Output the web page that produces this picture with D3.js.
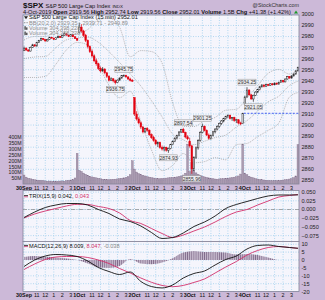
<!DOCTYPE html>
<html><head><meta charset="utf-8">
<script src="https://cdn.jsdelivr.net/npm/d3@7"></script>
<style>
html,body{margin:0;padding:0;background:#ccb9d8;}
svg{display:block;font-family:"Liberation Sans",Arial,sans-serif;}
</style></head>
<body><div id="app"></div>
<script>
// 15 min bars, 26 per day
const dayLabels = ['30Sep', '1Oct', '2Oct', '3Oct', '4Oct'];
const hourLabels = ['11', '12', '1', '2', '3'];
const hourBars = [6, 10, 14, 18, 22];
const barsPerDay = 26;

const opens = [
  2967.1, 2969.5, 2967.8, 2966.9, 2970.2, 2972.5, 2971.4, 2974.8, 2976.3, 2978.1, 2977.2, 2976.0, 2977.5, 2979.3, 2978.6, 2977.4, 2978.9, 2980.2, 2979.1, 2980.8, 2982.5, 2981.3, 2980.0, 2981.7, 2979.8, 2978.2,
  2983.7, 2988.5, 2985.0, 2981.2, 2976.5, 2970.8, 2966.3, 2962.5, 2958.1, 2955.4, 2951.2, 2949.0, 2950.6, 2947.2, 2944.1, 2940.5, 2941.8, 2940.0, 2938.4, 2940.6, 2942.5, 2944.6, 2945.0, 2943.5, 2941.6, 2940.4,
  2924.8, 2910.0, 2905.5, 2902.0, 2898.2, 2893.8, 2896.9, 2895.4, 2891.3, 2888.6, 2886.1, 2883.0, 2884.3, 2879.7, 2878.4, 2879.9, 2877.3, 2878.8, 2882.4, 2885.1, 2888.2, 2890.4, 2893.7, 2896.2, 2893.4, 2889.3,
  2885.4, 2881.2, 2860.4, 2870.5, 2879.4, 2886.2, 2893.4, 2898.8, 2895.1, 2891.0, 2888.0, 2890.6, 2893.9, 2896.4, 2898.9, 2901.6, 2903.7, 2905.9, 2907.6, 2908.8, 2906.0, 2906.8, 2904.1, 2904.8, 2901.9, 2901.2,
  2918.56, 2925.3, 2931.6, 2927.3, 2923.6, 2926.9, 2929.8, 2932.0, 2934.6, 2936.2, 2935.0, 2936.8, 2935.9, 2937.3, 2936.4, 2937.9, 2937.0, 2938.7, 2940.3, 2939.0, 2941.6, 2943.8, 2942.5, 2944.4, 2946.1, 2949.0
];
const highs = [
  2971.0, 2970.1, 2968.6, 2970.9, 2973.4, 2973.0, 2975.3, 2977.0, 2978.9, 2978.6, 2977.8, 2978.0, 2979.9, 2979.8, 2978.9, 2979.5, 2981.0, 2980.6, 2981.4, 2983.8, 2982.9, 2981.6, 2982.3, 2982.0, 2980.3, 2978.6,
  2992.5, 2991.2, 2986.1, 2982.4, 2977.3, 2972.0, 2968.4, 2963.9, 2960.2, 2956.3, 2953.0, 2952.4, 2951.3, 2948.0, 2945.0, 2943.2, 2942.5, 2941.1, 2941.3, 2943.0, 2945.2, 2945.75, 2945.5, 2944.0, 2942.8, 2941.5,
  2924.8, 2912.5, 2907.2, 2903.5, 2899.0, 2897.6, 2898.1, 2896.0, 2892.4, 2890.3, 2887.4, 2885.2, 2885.0, 2881.5, 2880.8, 2880.4, 2879.6, 2883.0, 2886.0, 2888.9, 2891.3, 2894.6, 2896.5, 2897.54, 2894.0, 2890.8,
  2888.5, 2882.0, 2871.8, 2880.6, 2887.1, 2894.5, 2901.25, 2899.6, 2896.0, 2892.4, 2891.5, 2894.8, 2897.1, 2899.8, 2902.3, 2904.5, 2906.6, 2908.4, 2909.7, 2909.5, 2907.3, 2907.5, 2905.6, 2905.3, 2903.0, 2911.1,
  2926.4, 2934.25, 2932.4, 2928.0, 2927.5, 2930.6, 2932.7, 2935.4, 2936.9, 2936.8, 2937.4, 2937.3, 2937.9, 2937.8, 2938.5, 2938.4, 2939.2, 2940.9, 2940.8, 2942.1, 2944.4, 2944.3, 2945.0, 2946.7, 2949.5, 2952.74
];
const lows = [
  2967.1, 2967.2, 2966.2, 2966.5, 2969.8, 2970.9, 2971.0, 2974.2, 2975.9, 2976.6, 2975.4, 2975.6, 2977.1, 2978.0, 2977.0, 2977.0, 2978.5, 2978.7, 2978.8, 2980.4, 2980.8, 2979.5, 2979.7, 2979.4, 2977.8, 2976.1,
  2982.9, 2983.6, 2979.8, 2975.0, 2969.2, 2965.1, 2961.0, 2956.8, 2953.6, 2949.8, 2947.5, 2948.1, 2945.9, 2942.6, 2939.4, 2939.8, 2938.6, 2936.75, 2937.9, 2940.1, 2942.0, 2943.6, 2942.8, 2940.9, 2939.4, 2938.9,
  2908.3, 2904.1, 2900.8, 2896.4, 2892.5, 2893.0, 2893.9, 2890.2, 2887.5, 2885.0, 2881.8, 2880.1, 2878.6, 2877.0, 2876.2, 2876.0, 2874.93, 2878.1, 2882.1, 2884.6, 2887.0, 2889.8, 2892.9, 2892.8, 2888.0, 2886.4,
  2879.6, 2855.96, 2858.5, 2869.3, 2877.8, 2885.0, 2892.6, 2894.3, 2890.2, 2886.8, 2886.9, 2889.7, 2892.5, 2895.2, 2897.6, 2900.3, 2902.5, 2904.8, 2906.2, 2905.1, 2903.8, 2903.0, 2901.9, 2900.6, 2899.8, 2900.9,
  2918.56, 2924.8, 2926.5, 2922.9, 2921.05, 2926.2, 2929.1, 2931.3, 2933.8, 2934.1, 2934.6, 2935.2, 2935.4, 2935.8, 2936.0, 2936.3, 2936.6, 2938.2, 2938.4, 2938.6, 2941.0, 2941.9, 2942.0, 2943.9, 2945.6, 2948.3
];
const closes = [
  2969.5, 2967.8, 2966.9, 2970.2, 2972.5, 2971.4, 2974.8, 2976.3, 2978.1, 2977.2, 2976.0, 2977.5, 2979.3, 2978.6, 2977.4, 2978.9, 2980.2, 2979.1, 2980.8, 2982.5, 2981.3, 2980.0, 2981.7, 2979.8, 2978.2, 2976.7,
  2988.5, 2985.0, 2981.2, 2976.5, 2970.8, 2966.3, 2962.5, 2958.1, 2955.4, 2951.2, 2949.0, 2950.6, 2947.2, 2944.1, 2940.5, 2941.8, 2940.0, 2938.4, 2940.6, 2942.5, 2944.6, 2945.0, 2943.5, 2941.6, 2940.4, 2940.25,
  2910.0, 2905.5, 2902.0, 2898.2, 2893.8, 2896.9, 2895.4, 2891.3, 2888.6, 2886.1, 2883.0, 2884.3, 2879.7, 2878.4, 2879.9, 2877.3, 2878.8, 2882.4, 2885.1, 2888.2, 2890.4, 2893.7, 2896.2, 2893.4, 2889.3, 2887.61,
  2881.2, 2860.4, 2870.5, 2879.4, 2886.2, 2893.4, 2898.8, 2895.1, 2891.0, 2888.0, 2890.6, 2893.9, 2896.4, 2898.9, 2901.6, 2903.7, 2905.9, 2907.6, 2908.8, 2906.0, 2906.8, 2904.1, 2904.8, 2901.9, 2901.2, 2910.63,
  2925.3, 2931.6, 2927.3, 2923.6, 2926.9, 2929.8, 2932.0, 2934.6, 2936.2, 2935.0, 2936.8, 2935.9, 2937.3, 2936.4, 2937.9, 2937.0, 2938.7, 2940.3, 2939.0, 2941.6, 2943.8, 2942.5, 2944.4, 2946.1, 2949.0, 2952.01
];
// volume, millions
const volumes = [
  80, 62, 52, 48, 44, 40, 38, 36, 34, 33, 30, 28, 29, 27, 26, 28, 27, 29, 30, 28, 32, 35, 38, 42, 55, 262,
  118, 110, 96, 86, 78, 70, 64, 60, 56, 52, 48, 45, 42, 43, 40, 42, 44, 45, 47, 50, 53, 56, 60, 66, 82, 200,
  130, 105, 92, 84, 78, 72, 66, 62, 58, 55, 52, 50, 48, 50, 52, 54, 56, 58, 60, 62, 64, 68, 72, 80, 95, 340,
  110, 185, 120, 98, 86, 78, 70, 64, 60, 56, 52, 48, 46, 45, 47, 48, 50, 52, 54, 56, 58, 62, 66, 72, 88, 340,
  95, 82, 70, 62, 56, 50, 46, 43, 40, 38, 36, 34, 33, 32, 33, 34, 35, 36, 38, 40, 42, 46, 50, 58, 72, 336
];
const prevClose = 2910.63;

// indicator lines read every 5 bars
const sampleBars = [0, 5, 10, 15, 20, 25, 30, 35, 40, 45, 50, 55, 60, 65, 70, 75, 80, 85, 90, 95, 100, 105, 110, 115, 120, 125, 129];
const bbUpper = [2977, 2980, 2980, 2985, 2986, 2982.7, 2986.4, 2995, 2996.7, 2988.3, 2961.8, 2967.3, 2966.4, 2956, 2920, 2899, 2898.7, 2903.8, 2906.9, 2913.4, 2914.3, 2924.6, 2935.5, 2946.8, 2950.3, 2946.1, 2949.89];
const bbMiddle = [2960, 2961.5, 2962, 2970, 2977, 2978.7, 2979.4, 2974.8, 2966.3, 2956.5, 2946.2, 2935.3, 2922, 2907.4, 2891.8, 2886.7, 2882.3, 2885.4, 2888.7, 2891, 2898.3, 2904, 2912.5, 2921, 2926.1, 2935.7, 2939.71];
const bbLower = [2943, 2943, 2944, 2955, 2968, 2974.7, 2972.4, 2954.6, 2935.9, 2924.7, 2930.6, 2903.3, 2877.6, 2858.8, 2863.6, 2874.3, 2865.9, 2867, 2870.5, 2868.6, 2882.3, 2883.4, 2889.5, 2895.2, 2901.9, 2925.3, 2929.35];
const trix = [-0.023, -0.0072, 0.0057, 0.0129, 0.0172, 0.0172, 0.0129, 0, -0.0115, -0.0273, -0.0345, -0.0474, -0.0661, -0.0833, -0.0805, -0.0675, -0.0489, -0.0359, -0.0187, 0.0029, 0.0144, 0.023, 0.0316, 0.0388, 0.0417, 0.0417, 0.042];
const trixSignal = [-0.0244, -0.0129, -0.0043, 0.0029, 0.0101, 0.0149, 0.0144, 0.0086, 0.0029, -0.0101, -0.0316, -0.0402, -0.0546, -0.069, -0.0805, -0.0733, -0.0618, -0.0503, -0.0359, -0.0201, -0.0072, 0, 0.0129, 0.0244, 0.0359, 0.0402, 0.043];
const macd = [-4.11, 0, 2.53, 3.48, 3.16, 2.22, -0.63, -4.75, -7.28, -9.18, -7.59, -13.6, -16.8, -17.7, -15.8, -11.4, -8.54, -6.96, -3.16, 0.32, 2.53, 6.96, 9.18, 9.49, 8.54, 7.91, 7.41];
const macdSignal = [-6.01, -2.53, 0.32, 1.9, 2.22, 2.22, 1.58, 0, -2.22, -5.38, -8.23, -11.4, -14.1, -16.1, -16.9, -16.1, -14.2, -12.0, -8.23, -4.43, -0.95, 3.16, 6.01, 7.91, 8.54, 7.91, 7.41];

// high / low tags on the price chart
const tagBars = [43, 47, 68, 75, 79, 84, 105, 108];
const tagSide = ['low', 'high', 'low', 'high', 'low', 'high', 'high', 'low'];

const W = 325, H = 300;
const L = 23, R = 299;
const main = {top: 15, bot: 184};
const trixP = {top: 190.5, bot: 241.5};
const macdP = {top: 241.5, bot: 291.5};

const svg = d3.select('#app').append('svg')
  .attr('width', W)
  .attr('height', H);

const n = closes.length;
const x = d3.scaleBand().domain(d3.range(n)).range([L, R]);
const bw = x.bandwidth();
const cx = i => x(i) + bw / 2;

const yP = d3.scaleLinear().domain([2910, 3000]).range([114, 14.4]);
const yV = d3.scaleLinear().domain([0, 400]).range([184.5, 137]);
const yT = d3.scaleLinear().domain([0, 0.05]).range([209.5, 192.1]);
const yM = d3.scaleLinear().domain([0, 10]).range([260, 244.2]);

const defs = svg.append('defs');
[['cMain', main], ['cTrix', trixP], ['cMacd', macdP]].forEach(([id, p]) => {
  defs.append('clipPath').attr('id', id)
    .append('rect').attr('x', L).attr('y', p.top).attr('width', R - L).attr('height', p.bot - p.top);
});
const pat = defs.append('pattern').attr('id', 'hatch')
  .attr('patternUnits', 'userSpaceOnUse')
  .attr('x', L).attr('y', 0).attr('width', bw).attr('height', 10);
pat.append('rect').attr('width', bw).attr('height', 10).attr('fill', '#cdc1d3');
pat.append('rect').attr('x', bw / 2 - 0.45).attr('width', 0.9).attr('height', 10).attr('fill', '#7f6a8a');

const tickBars = [];
dayLabels.forEach((d, k) => {
  tickBars.push(k * barsPerDay);
  hourBars.forEach(h => tickBars.push(k * barsPerDay + h));
});

function panel(p, yTicks, yScale, fmt) {
  svg.append('rect').attr('x', L).attr('y', p.top).attr('width', R - L).attr('height', p.bot - p.top)
    .attr('fill', '#f5f5fc');
  const g = svg.append('g');
  g.selectAll('.vg').data(tickBars).enter().append('line')
    .attr('x1', d => cx(d)).attr('x2', d => cx(d))
    .attr('y1', p.top).attr('y2', p.bot)
    .attr('stroke', '#9fcfee').attr('stroke-width', 0.8).attr('stroke-dasharray', '1,1.5');
  g.selectAll('.hg').data(yTicks).enter().append('line')
    .attr('x1', L).attr('x2', R)
    .attr('y1', d => yScale(d)).attr('y2', d => yScale(d))
    .attr('stroke', '#9fcfee').attr('stroke-width', 0.8).attr('stroke-dasharray', '1,1.5');
  svg.append('g').selectAll('text').data(yTicks).enter().append('text')
    .attr('x', 301.5).attr('y', d => yScale(d)).attr('dy', '0.35em')
    .attr('font-size', 5.6).attr('fill', '#222')
    .text(fmt);
}

function frame(p) {
  svg.append('rect').attr('x', L).attr('y', p.top).attr('width', R - L).attr('height', p.bot - p.top)
    .attr('fill', 'none').attr('stroke', '#85849a').attr('stroke-width', 0.8);
}

// ---- main price panel
panel(main, d3.range(2850, 3001, 10), yP, d => d);

const gm = svg.append('g').attr('clip-path', 'url(#cMain)');

gm.selectAll('.vol').data(volumes).enter().append('rect')
  .attr('x', (d, i) => x(i) + 0.15)
  .attr('width', bw - 0.3)
  .attr('y', d => yV(d))
  .attr('height', d => yV(0) - yV(d))
  .attr('fill', '#aa9bb1').attr('stroke', '#806d89').attr('stroke-width', 0.35);

const bbLine = d3.line().x((d, k) => cx(sampleBars[k])).y(d => yP(d)).curve(d3.curveMonotoneX);
[bbUpper, bbMiddle, bbLower].forEach(arr => {
  gm.append('path').attr('d', bbLine(arr)).attr('fill', 'none')
    .attr('stroke', '#999').attr('stroke-width', 0.7).attr('stroke-dasharray', '1,1');
});

const candles = gm.selectAll('.cd').data(closes).enter().append('g');
const col = (c, i) => (i > 0 && c < closes[i - 1]) ? '#e3000f' : '#222';
candles.append('line')
  .attr('x1', (d, i) => cx(i)).attr('x2', (d, i) => cx(i))
  .attr('y1', (d, i) => yP(highs[i])).attr('y2', (d, i) => yP(lows[i]))
  .attr('stroke', col).attr('stroke-width', 0.7);
candles.append('rect')
  .attr('x', (d, i) => cx(i) - bw * 0.36)
  .attr('width', bw * 0.72)
  .attr('y', (d, i) => yP(Math.max(opens[i], d)))
  .attr('height', (d, i) => Math.max(0.8, Math.abs(yP(opens[i]) - yP(d))))
  .attr('fill', (d, i) => d >= opens[i] ? '#f5f5fc' : col(d, i))
  .attr('stroke', col).attr('stroke-width', 0.5);

gm.append('line')
  .attr('x1', x(4 * barsPerDay)).attr('x2', R)
  .attr('y1', yP(prevClose)).attr('y2', yP(prevClose))
  .attr('stroke', '#1f3cf0').attr('stroke-width', 0.8).attr('stroke-dasharray', '2,1.5');

// price tags
tagBars.forEach((b, k) => {
  const v = tagSide[k] === 'high' ? highs[b] : lows[b];
  const ty = tagSide[k] === 'high' ? yP(v) - 5 : yP(v) + 5;
  const t = v.toFixed(2);
  svg.append('rect').attr('x', cx(b) - 9).attr('y', ty - 3).attr('width', 18).attr('height', 6)
    .attr('fill', '#ececf0').attr('stroke', '#9a9a9a').attr('stroke-width', 0.5);
  svg.append('text').attr('x', cx(b)).attr('y', ty).attr('dy', '0.35em')
    .attr('text-anchor', 'middle').attr('font-size', 5).attr('fill', '#333').text(t);
});

// volume labels on the left
svg.append('g').selectAll('text').data(d3.range(50, 401, 50)).enter().append('text')
  .attr('x', 21.5).attr('y', d => yV(d)).attr('dy', '0.35em')
  .attr('text-anchor', 'end').attr('font-size', 5.2).attr('fill', '#222')
  .text(d => d + 'M');

frame(main);

// main legend
const leg = svg.append('g').attr('font-size', 5.6);
leg.append('path').attr('d', 'M24,16.2 L28,16.2 L26,19.2 Z').attr('fill', '#222');
leg.append('text').attr('x', 29).attr('y', 19.4).attr('fill', '#111')
  .text('S&P 500 Large Cap Index (15 min) 2952.01');
leg.append('line').attr('x1', 24).attr('x2', 28).attr('y1', 22.7).attr('y2', 22.7)
  .attr('stroke', '#999').attr('stroke-dasharray', '1,0.6');
leg.append('text').attr('x', 29).attr('y', 24.7).attr('fill', '#8d8d8d')
  .text('BB(20,2.0) 2929.35 - 2939.71 - 2949.89');
[30, 35.3].forEach(yy => {
  leg.append('rect').attr('x', 24.5).attr('y', yy - 3.8).attr('width', 1.2).attr('height', 3.6).attr('fill', '#333');
  leg.append('rect').attr('x', 26.2).attr('y', yy - 2.6).attr('width', 1.2).attr('height', 2.4).attr('fill', '#333');
  leg.append('text').attr('x', 29).attr('y', yy).attr('fill', '#8d8d8d').text('Volume 304,398,228');
});

// ---- x labels
function xLabels(yy) {
  const g = svg.append('g').attr('font-size', 5.4).attr('fill', '#111').attr('text-anchor', 'middle');
  dayLabels.forEach((d, k) => {
    g.append('text').attr('x', cx(k * barsPerDay)).attr('y', yy).attr('font-weight', 'bold').text(d);
    hourBars.forEach((h, j) => {
      g.append('text').attr('x', cx(k * barsPerDay + h)).attr('y', yy).text(hourLabels[j]);
    });
  });
}
xLabels(189.6);
xLabels(297.3);

// ---- TRIX panel
panel(trixP, [0.05, 0.025, 0, -0.025, -0.05, -0.075], yT, d3.format('.3f'));
const gt = svg.append('g').attr('clip-path', 'url(#cTrix)');
gt.append('line').attr('x1', L).attr('x2', R).attr('y1', yT(0)).attr('y2', yT(0))
  .attr('stroke', '#888').attr('stroke-width', 0.7).attr('stroke-dasharray', '4,1.5,1,1.5');
const trixLine = d3.line().x((d, k) => cx(sampleBars[k])).y(d => yT(d)).curve(d3.curveMonotoneX);
gt.append('path').attr('d', trixLine(trixSignal)).attr('fill', 'none').attr('stroke', '#d3306b').attr('stroke-width', 0.9);
gt.append('path').attr('d', trixLine(trix)).attr('fill', 'none').attr('stroke', '#111').attr('stroke-width', 0.9);
frame(trixP);
const tl = svg.append('text').attr('x', 29).attr('y', 198).attr('font-size', 5.6).attr('fill', '#111');
svg.append('line').attr('x1', 24).attr('x2', 28).attr('y1', 195.6).attr('y2', 195.6).attr('stroke', '#111').attr('stroke-width', 0.8);
svg.append('line').attr('x1', 24).attr('x2', 28).attr('y1', 196.8).attr('y2', 196.8).attr('stroke', '#d3306b').attr('stroke-width', 0.8);
tl.append('tspan').text('TRIX(15,9) ' + trix[trix.length - 1].toFixed(3) + ', ');
tl.append('tspan').attr('fill', '#d3306b').text(trixSignal[trixSignal.length - 1].toFixed(3));

// ---- MACD panel
panel(macdP, [10, 5, 0, -5, -10, -15, -20], yM, d => d);
const gh = svg.append('g').attr('clip-path', 'url(#cMacd)');
const hist = macd.map((d, k) => d - macdSignal[k]);
gh.append('path')
  .attr('d', d3.area().x((d, k) => cx(sampleBars[k])).y0(yM(0)).y1(d => yM(d)).curve(d3.curveMonotoneX)(hist))
  .attr('fill', 'url(#hatch)');
const macdLine = d3.line().x((d, k) => cx(sampleBars[k])).y(d => yM(d)).curve(d3.curveMonotoneX);
gh.append('path').attr('d', macdLine(macdSignal)).attr('fill', 'none').attr('stroke', '#d3306b').attr('stroke-width', 0.9);
gh.append('path').attr('d', macdLine(macd)).attr('fill', 'none').attr('stroke', '#111').attr('stroke-width', 0.9);
frame(macdP);
svg.append('line').attr('x1', 24).attr('x2', 28).attr('y1', 245.4).attr('y2', 245.4).attr('stroke', '#111').attr('stroke-width', 0.8);
svg.append('line').attr('x1', 24).attr('x2', 28).attr('y1', 246.6).attr('y2', 246.6).attr('stroke', '#d3306b').attr('stroke-width', 0.8);
const ml = svg.append('text').attr('x', 29).attr('y', 247.8).attr('font-size', 5.6).attr('fill', '#111');
ml.append('tspan').text('MACD(12,26,9) 8.009, ');
ml.append('tspan').attr('fill', '#d3306b').text('8.047');
ml.append('tspan').attr('fill', '#888').text(', -0.038');

// ---- header
const h1 = svg.append('text').attr('x', L).attr('y', 7.6).attr('fill', '#111');
h1.append('tspan').attr('font-size', 8).attr('font-weight', 'bold').text('$SPX');
h1.append('tspan').attr('font-size', 5.6).attr('dx', 2).text('S&P 500 Large Cap Index');
h1.append('tspan').attr('font-size', 4.4).attr('dx', 2).text('INDX');
svg.append('text').attr('x', R).attr('y', 7.2).attr('text-anchor', 'end')
  .attr('font-size', 5.4).attr('fill', '#333').text('@StockCharts.com');

const h2 = svg.append('text').attr('x', L).attr('y', 13.8).attr('font-size', 5.6).attr('fill', '#111')
  .attr('textLength', 268).attr('lengthAdjust', 'spacingAndGlyphs');
[['4-Oct-2019   ', false], ['Open ', true], ['2919.56 ', false], ['High ', true], ['2952.74 ', false],
 ['Low ', true], ['2919.56 ', false], ['Close ', true], ['2952.01 ', false], ['Volume ', true], ['1.5B ', false],
 ['Chg ', true], ['+41.38 (+1.42%)', false]].forEach(([t, b]) => {
  h2.append('tspan').attr('font-weight', b ? 'bold' : 'normal').text(t);
});
svg.append('path').attr('d', 'M294,13.6 L298,13.6 L296,10.6 Z').attr('fill', '#1a9a2a');
</script>
</body></html>
